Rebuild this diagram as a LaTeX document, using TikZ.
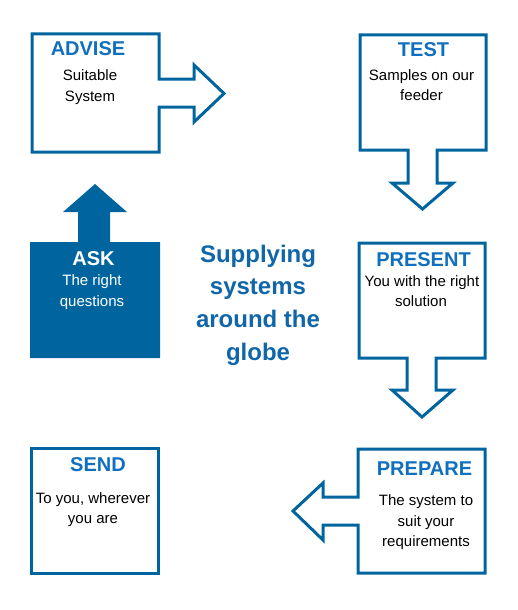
\documentclass[tikz,border=0pt]{standalone}
\usepackage{fontspec}
\setmainfont{Liberation Sans}
\definecolor{boxblue}{HTML}{00659F}
\definecolor{titleblue}{HTML}{1070BF}
\definecolor{centerblue}{HTML}{1066A8}
\tikzset{
  outline/.style={draw=boxblue, line width=3pt, line join=miter, fill=white},
  solid box/.style={fill=boxblue, draw=none},
  ttl/.style={anchor=base, inner sep=0pt, text=titleblue, font=\fontsize{20}{24}\selectfont\bfseries},
  ttlw/.style={anchor=base, inner sep=0pt, text=white, font=\fontsize{20}{24}\selectfont\bfseries},
  body/.style={anchor=base, inner sep=0pt, text=black, font=\fontsize{15}{18}\selectfont},
  bodyw/.style={anchor=base, inner sep=0pt, text=white, font=\fontsize{15}{18}\selectfont},
  ctr/.style={anchor=base, inner sep=0pt, text=centerblue, font=\fontsize{24}{30}\selectfont\bfseries},
}
\begin{document}
\begin{tikzpicture}[x=1pt,y=-1pt]
\useasboundingbox (0,0) rectangle (518,610);
% ADVISE
\draw[outline] (32,34) -- (159,34) -- (159,79) -- (194,79) -- (194,65) -- (224,93.5) -- (194,122) -- (194,107) -- (159,107) -- (159,152) -- (32,152) -- cycle;
\node[ttl] (adviseT) at (88,56) {ADVISE};
\node[body] (advise1) at (90,80) {Suitable};
\node[body] (advise2) at (90,101) {System};
% TEST
\draw[outline] (360,35) -- (486,35) -- (486,150) -- (437,150) -- (437,183) -- (453,183) -- (422.5,209) -- (392,183) -- (408,183) -- (408,150) -- (360,150) -- cycle;
\node[ttl] (testT) at (423.5,56.5) {TEST};
\node[body] (test1) at (421.5,80) {Samples on our};
\node[body] (test2) at (421.5,100.5) {feeder};
% ASK
\fill[solid box] (30,242) -- (78,242) -- (78,212) -- (63,212) -- (95,184) -- (127,212) -- (110,212) -- (110,242) -- (160,242) -- (160,358) -- (30,358) -- cycle;
\node[ttlw] (askT) at (93.5,265.5) {ASK};
\node[bodyw] (ask1) at (92,285) {The right};
\node[bodyw] (ask2) at (92,306) {questions};
% PRESENT
\draw[outline] (359,243) -- (485,243) -- (485,358) -- (436,358) -- (436,390) -- (453,390) -- (422,417) -- (392,390) -- (407,390) -- (407,358) -- (359,358) -- cycle;
\node[ttl] (presentT) at (423.5,266) {PRESENT};
\node[body] (present1) at (422,286) {You with the right};
\node[body] (present2) at (421,306.5) {solution};
% PREPARE
\draw[outline] (358,449) -- (485,449) -- (485,573) -- (358,573) -- (358,525) -- (323,525) -- (323,540) -- (293,511) -- (323,483) -- (323,497) -- (358,497) -- cycle;
\node[ttl] (prepareT) at (424.5,475) {PREPARE};
\node[body] (prepare1) at (426,505) {The system to};
\node[body] (prepare2) at (426,526) {suit your};
\node[body] (prepare3) at (426,546.5) {requirements};
% SEND
\draw[outline] (31,448) rectangle (158,573);
\node[ttl] (sendT) at (98,471.5) {SEND};
\node[body] (send1) at (93,503) {To you, wherever};
\node[body] (send2) at (93,523) {you are};
% centre
\node[ctr] (c1) at (258,262) {Supplying};
\node[ctr] (c2) at (258,294.5) {systems};
\node[ctr] (c3) at (258,327.5) {around the};
\node[ctr] (c4) at (258,360) {globe};
\end{tikzpicture}
\end{document}
